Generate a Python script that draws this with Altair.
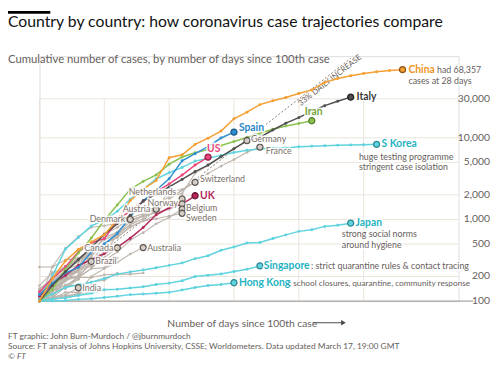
import altair as alt
import pandas as pd

# ---------------- data: cumulative cases by day since 100th case ----------------
china = [100, 190, 310, 430, 530, 650, 1000, 1700, 2350, 3000, 5700, 6200, 8300, 9900, 12100,
         17100, 20600, 25500, 28400, 31200, 34900, 38600, 47700, 53300, 57400, 61200, 64500,
         66700, 68357]
italy = [100, 155, 229, 322, 453, 655, 888, 1128, 1694, 2036, 2502, 3089, 3858, 4636, 5883,
         7375, 9172, 10149, 12462, 15113, 17660, 21157, 24747, 27980, 31506]
spain = [120, 165, 222, 259, 400, 500, 673, 1073, 1695, 2277, 3146, 5232, 6391, 7798, 9942, 11748]
us = [130, 190, 262, 402, 518, 583, 959, 1281, 1663, 2179, 2726, 3499, 4632, 5800]
iran = [100, 139, 245, 388, 593, 978, 1501, 2336, 2922, 3513, 4747, 5823, 6566, 7161, 8042,
        9000, 10075, 11364, 12729, 13938, 14991, 16169]
skorea = [104, 204, 433, 602, 833, 977, 1261, 1766, 2337, 3150, 3736, 4335, 5186, 5621, 6088,
          6593, 7041, 7314, 7478, 7513, 7755, 7869, 7979, 8086, 8162, 8236, 8320]
japan = [105, 122, 147, 159, 170, 189, 214, 228, 241, 256, 274, 293, 331, 360, 420, 461, 514,
         523, 585, 647, 715, 750, 822, 850, 900]
singapore = [102, 106, 110, 117, 125, 138, 140, 145, 150, 160, 166, 178, 200, 207, 215, 230, 245, 270]
hongkong = [100, 100, 102, 105, 107, 111, 115, 120, 122, 125, 128, 137, 147, 155, 160, 168]
uk = [115, 163, 206, 273, 321, 382, 456, 590, 798, 1140, 1391, 1543, 1950]

germany = [130, 159, 196, 262, 482, 670, 799, 1040, 1176, 1457, 1908, 2078, 3675, 4585, 5795, 7272, 9257]
france = [100, 130, 191, 204, 285, 377, 653, 949, 1126, 1209, 1784, 2281, 2876, 3661, 4499, 5423, 6633, 7699]
switzerland = [100, 214, 268, 337, 374, 491, 652, 858, 1139, 1359, 2200, 2330, 2850]
netherlands = [128, 188, 265, 321, 382, 503, 614, 804, 959, 1135, 1413, 1780]
norway = [108, 147, 176, 205, 400, 598, 702, 996, 1090, 1221, 1333, 1550]
belgium = [109, 169, 200, 239, 267, 314, 399, 559, 689, 886, 1058, 1340]
sweden = [101, 161, 203, 248, 355, 500, 599, 814, 961, 1022, 1103, 1190]
austria = [104, 131, 182, 246, 302, 504, 655, 860, 1018, 1332]
denmark = [100, 264, 444, 617, 804, 836, 898, 1000]
canada = [103, 138, 193, 198, 252, 341, 450]
australia = [100, 107, 128, 128, 200, 250, 297, 377, 452]
brazil = [100, 121, 151, 200, 306]
india = [102, 113, 119, 146]

others = {
    "Malaysia": [129, 149, 197, 238, 428, 566, 673],
    "Qatar": [262, 262, 320, 337, 401, 439, 452],
    "Greece": [100, 190, 228, 331, 331, 387],
    "Israel": [100, 131, 193, 193, 251, 255, 337],
    "Portugal": [112, 169, 245, 331, 448],
    "Czechia": [141, 189, 253, 298, 396],
    "Finland": [155, 225, 244, 277, 321],
    "Iceland": [103, 134, 156, 156, 171, 180, 220],
    "Ireland": [129, 169, 223],
    "Bahrain": [109, 110, 189, 195, 195, 210, 214, 214, 221],
    "Slovenia": [141, 181, 219, 253, 275],
    "Estonia": [115, 171, 205, 225],
    "Poland": [103, 119, 177, 238],
    "San Marino": [101, 109, 109, 119],
    "Egypt": [109, 110, 150, 196],
    "Philippines": [111, 140, 142, 187],
    "Romania": [123, 131, 158, 184],
    "Iraq": [101, 110, 116, 124, 154],
    "Kuwait": [100, 104, 112, 123, 130],
}

x_ticks = [0, 5, 10, 15, 20, 25]
y_ticks = [100, 200, 500, 1000, 2000, 5000, 10000, 30000]
grid_y = [200, 500, 1000, 2000, 5000, 10000, 30000]
guide_days = [0, 24]
guide_cases = [100, 93800]   # 33% daily increase from 100 cases

# ---------------- styling ----------------
FONT = "Lato"
GREY_TXT = "#66605c"
GRID = "#ece3da"
GREY_LINE = "#bdb4ac"
W, H = 426, 249

xs = alt.Scale(domain=[0, 32.32], nice=False, zero=False)
ys = alt.Scale(type="log", domain=[100, 100000], nice=False)

colored = [
    ("Japan", japan, "#5fd3de", "#2f8791"),
    ("Singapore", singapore, "#5fd3de", "#2f8791"),
    ("Hong Kong", hongkong, "#5fd3de", "#2f8791"),
    ("S Korea", skorea, "#5fd3de", "#2f8791"),
    ("UK", uk, "#b3285a", "#6a1131"),
    ("US", us, "#e9477c", "#8f1c44"),
    ("Iran", iran, "#8cc152", "#4c7a1e"),
    ("Spain", spain, "#2f8fd0", "#1a5a8a"),
    ("Italy", italy, "#4f4f4f", "#222222"),
    ("China", china, "#f59f33", "#8a5410"),
]
grey_labeled = [
    ("Germany", germany), ("France", france), ("Switzerland", switzerland),
    ("Netherlands", netherlands), ("Norway", norway), ("Belgium", belgium),
    ("Sweden", sweden), ("Austria", austria), ("Denmark", denmark),
    ("Canada", canada), ("Australia", australia), ("Brazil", brazil), ("India", india),
]


def long_df(items):
    rows = []
    for name, vals, col, dark in items:
        for d, v in enumerate(vals):
            rows.append(dict(country=name, day=d, cases=v, color=col, dark=dark))
    return pd.DataFrame(rows)


grey_items = [(n, v, GREY_LINE, "#5e5752") for n, v in others.items()] + \
             [(n, v, GREY_LINE, "#5e5752") for n, v in grey_labeled]
df_grey = long_df(grey_items)
df_col = long_df(colored)
df_ends = pd.concat([
    df_grey[df_grey.country.isin([n for n, _ in grey_labeled])].groupby("country").tail(1),
    df_col.groupby("country").tail(1),
])
df_ends["fill"] = df_ends["color"].where(df_ends["color"] != GREY_LINE, "#d6cec7")

X = alt.X("day:Q", scale=xs, axis=None)
Y = alt.Y("cases:Q", scale=ys, axis=None)

# grid
hgrid = alt.Chart(pd.DataFrame({"v": grid_y})).mark_rule(color=GRID, strokeWidth=1).encode(
    y=alt.Y("v:Q", scale=ys, axis=alt.Axis(values=y_ticks, format=",", title=None, grid=False,
                                           domain=False, ticks=False, labelPadding=3,
                                           labelFontSize=10.5, labelColor=GREY_TXT, labelFont=FONT)),
    x=alt.value(0), x2=alt.value(W))
vgrid = alt.Chart(pd.DataFrame({"d": x_ticks, "lo": [100] * 6, "hi": [30000] * 6})).mark_rule(
    color=GRID, strokeWidth=1).encode(
    x=alt.X("d:Q", scale=xs, axis=alt.Axis(values=x_ticks, title=None, grid=False, domain=False,
                                           ticks=False, labelPadding=3, labelFontSize=10.5,
                                           labelColor=GREY_TXT, labelFont=FONT)),
    y=alt.Y("lo:Q", scale=ys), y2="hi:Q")
base_rule = alt.Chart(pd.DataFrame({"v": [100]})).mark_rule(color="#9a918a", strokeWidth=1).encode(
    y=alt.Y("v:Q", scale=ys, axis=None), x=alt.value(0), x2=alt.value(441))
right_labels = alt.Chart(pd.DataFrame({"v": y_ticks})).mark_text(
    align="right", baseline="middle", fontSize=10.5, color=GREY_TXT, font=FONT).encode(
    y=alt.Y("v:Q", scale=ys, axis=None), x=alt.value(458), text=alt.Text("v:Q", format=","))

# 33% guide
guide = alt.Chart(pd.DataFrame({"day": guide_days, "cases": guide_cases})).mark_line(
    color="#77706a", strokeWidth=0.9, strokeDash=[2, 2]).encode(x=X, y=Y)
g_mid = 22.0
guide_lbl = alt.Chart(pd.DataFrame({"day": [g_mid], "cases": [100 * 1.33 ** g_mid],
                                    "t": ["33% DAILY INCREASE"]})).mark_text(
    angle=322, fontSize=8, color=GREY_TXT, font=FONT, dx=3, dy=5, baseline="middle").encode(
    x=X, y=Y, text="t:N")

grey_lines = alt.Chart(df_grey).mark_line(strokeWidth=1.1, color=GREY_LINE).encode(
    x=X, y=Y, detail="country:N", order="day:Q")
grey_pts = alt.Chart(df_grey).mark_circle(size=7, color=GREY_LINE, opacity=1).encode(x=X, y=Y)

col_layers = []
for name, vals, col, dark in colored:
    d = df_col[df_col.country == name]
    col_layers.append(alt.Chart(d).mark_line(strokeWidth=1.5, color=col).encode(x=X, y=Y, order="day:Q"))
    col_layers.append(alt.Chart(d).mark_circle(size=9, color=col, opacity=1).encode(x=X, y=Y))

ends = alt.Chart(df_ends).mark_point(filled=False, size=38, strokeWidth=1.3, opacity=1).encode(
    x=X, y=Y, fill=alt.Color("fill:N", scale=None), stroke=alt.Color("dark:N", scale=None))

halos, labels_txt = [], []


def label(text, vals, dx, dy, color, size, bold=False, align="left"):
    d = pd.DataFrame({"day": [len(vals) - 1], "cases": [vals[-1]], "t": [text]})
    kw = dict(align=align, baseline="middle", dx=dx, dy=dy, fontSize=size, font=FONT,
              fontWeight="bold" if bold else "normal")
    halos.append(alt.Chart(d).mark_text(stroke="white", strokeWidth=3, strokeOpacity=0.9,
                                        fill="white", **kw).encode(x=X, y=Y, text="t:N"))
    labels_txt.append(alt.Chart(d).mark_text(color=color, **kw).encode(x=X, y=Y, text="t:N"))


TEAL = "#25b3c2"
GL = "#7a716a"
label("China", china, 6, 0, "#ef9423", 10.5, True)
label("had 68,357", china, 35, 0, GREY_TXT, 9)
label("cases at 28 days", china, 6, 12, GREY_TXT, 9)
label("Italy", italy, 6, 0, "#3a3a3a", 10.5, True)
label("Iran", iran, 2, -9, "#74a53a", 10.5, True, "center")
label("Spain", spain, 5, -4, "#2a87c8", 10.5, True)
label("US", us, -1, -8, "#e9477c", 10.5, True)
label("S Korea", skorea, 5, 0, TEAL, 10.5, True)
label("huge testing programme", skorea, -18, 12.5, GREY_TXT, 9)
label("stringent case isolation", skorea, -18, 23.5, GREY_TXT, 9)
label("Japan", japan, 5, 0, TEAL, 10.5, True)
label("strong social norms", japan, -9, 11.5, GREY_TXT, 9)
label("around hygiene", japan, -9, 22.5, GREY_TXT, 9)
label("Singapore", singapore, 4, 0, TEAL, 10.5, True)
label(": strict quarantine rules & contact tracing", singapore, 52, 0, GREY_TXT, 9)
label("Hong Kong", hongkong, 5, 0, TEAL, 10.5, True)
label(": school closures, quarantine, community response", hongkong, 56, 0, GREY_TXT, 8.4)
label("UK", uk, 5, 0, "#b3285a", 10.5, True)
label("Germany", germany, 4, -2, GL, 9)
label("France", france, 6, 4, GL, 9)
label("Switzerland", switzerland, 5, -3, GL, 9)
label("Netherlands", netherlands, -6, -7, GL, 9, align="right")
label("Norway", norway, -4, -1, GL, 9, align="right")
label("Austria", austria, -6, 0, GL, 9, align="right")
label("Belgium", belgium, 4, -1, GL, 9)
label("Sweden", sweden, 4, 5, GL, 9)
label("Denmark", denmark, -5, 0, GL, 9, align="right")
label("Canada", canada, -4, 0, GL, 9, align="right")
label("Australia", australia, 4, 0, GL, 9)
label("Brazil", brazil, 4, 0, GL, 9)
label("India", india, 4, 0, GL, 9)


# fixed texts (title, subtitle, axis title, footnotes)
def fixed(text, x, y, size, color, weight="normal", italic=False, align="left"):
    return alt.Chart(pd.DataFrame({"t": [text]})).mark_text(
        align=align, baseline="alphabetic", fontSize=size, color=color, font=FONT,
        fontWeight=weight, fontStyle="italic" if italic else "normal").encode(
        x=alt.value(x), y=alt.value(y), text="t:N")


one = pd.DataFrame({"k": [0]})
bar = alt.Chart(one).mark_rect(color="#000000").encode(
    x=alt.value(-32), x2=alt.value(11), y=alt.value(-46), y2=alt.value(-43))
texts = [
    fixed("Country by country: how coronavirus case trajectories compare", -32, -30, 16, "#111111"),
    fixed("Cumulative number of cases, by number of days since 100th case", -32, 7, 11.5, GREY_TXT),
    fixed("Number of days since 100th case", 130, 275, 10.5, GREY_TXT),
    fixed("FT graphic: John Burn-Murdoch / @jburnmurdoch", -32, 288, 8.5, GREY_TXT),
    fixed("Source: FT analysis of Johns Hopkins University, CSSE; Worldometers. Data updated March 17, 19:00 GMT",
          -32, 298, 8.5, GREY_TXT),
    fixed("© FT", -32, 307.5, 8.5, GREY_TXT, italic=True),
]
arrow_line = alt.Chart(one).mark_rule(color="#4d4845", strokeWidth=1).encode(
    x=alt.value(278), x2=alt.value(308), y=alt.value(271))
arrow_head = alt.Chart(one).mark_point(shape="triangle-right", filled=True, size=30,
                                       color="#4d4845", opacity=1).encode(
    x=alt.value(309), y=alt.value(271))

chart = alt.layer(
    hgrid, vgrid, base_rule, right_labels, guide, guide_lbl, grey_lines, grey_pts,
    *col_layers, ends, *halos, *labels_txt, bar, *texts, arrow_line, arrow_head
).properties(
    width=W, height=H,
    autosize=alt.AutoSizeParams(type="none"),
    padding={"left": 32, "top": 46, "right": 34, "bottom": 62},
).configure_view(stroke=None).configure(font=FONT)

chart.save("out.html", embed_options={"renderer": "svg", "actions": False})
